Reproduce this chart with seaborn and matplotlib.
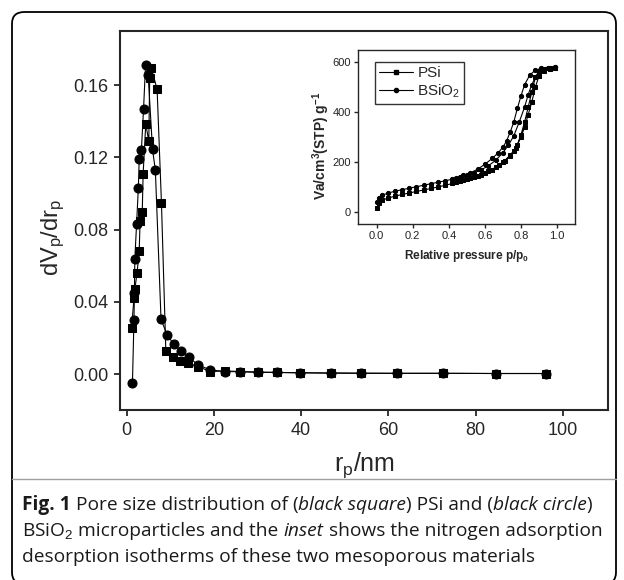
import numpy as np
import pandas as pd
import matplotlib
matplotlib.use('Agg')
import matplotlib.pyplot as plt
import seaborn as sns
from matplotlib.patches import FancyBboxPatch
from matplotlib.lines import Line2D

sns.set_style('ticks')
plt.rcParams['font.family'] = ['Liberation Sans', 'DejaVu Sans']
plt.rcParams['mathtext.fontset'] = 'custom'
plt.rcParams['mathtext.rm'] = 'Liberation Sans'
plt.rcParams['mathtext.it'] = 'Liberation Sans:italic'
plt.rcParams['mathtext.bf'] = 'Liberation Sans:bold'

# Pore size distribution (main plot)
psi_r = [1.15, 1.7, 1.9, 2.4, 2.9, 3.1, 3.6, 3.8, 4.4, 5.1, 5.3, 5.7, 7.0, 8.0, 9.0,
         10.7, 12.2, 14.1, 16.4, 19.2, 22.5, 26.1, 30.1, 34.4, 39.7, 46.8, 53.7,
         62.0, 72.5, 84.7, 96.0]
psi_dv = [0.0255, 0.042, 0.047, 0.056, 0.068, 0.085, 0.090, 0.111, 0.1385, 0.129,
          0.1638, 0.1693, 0.1577, 0.0946, 0.013, 0.0098, 0.0074, 0.006, 0.0042,
          0.0015, 0.0018, 0.0015, 0.0012, 0.001, 0.0008, 0.0007, 0.0006, 0.0005,
          0.0005, 0.0004, 0.0004]
bsio_r = [1.35, 1.7, 1.8, 1.9, 2.3, 2.7, 2.9, 3.4, 3.9, 4.35, 4.95, 5.95, 6.6, 7.9,
          9.3, 10.8, 12.4, 14.3, 16.4, 19.2, 22.5, 26.1, 30.1, 34.4, 39.7, 46.8,
          53.7, 62.0, 72.5, 84.7, 96.0]
bsio_dv = [-0.005, 0.030, 0.045, 0.064, 0.083, 0.103, 0.119, 0.124, 0.147, 0.171,
           0.1656, 0.1245, 0.113, 0.0304, 0.0217, 0.0168, 0.0129, 0.0094, 0.0051,
           0.0024, 0.0015, 0.0014, 0.001, 0.001, 0.0008, 0.0006, 0.0005, 0.0005,
           0.0005, 0.0004, 0.0004]

# Isotherms (inset): adsorption then desorption branch
psi_ads_p = [0.002, 0.01, 0.03, 0.06, 0.1, 0.14, 0.18, 0.22, 0.26, 0.3, 0.34, 0.38,
             0.42, 0.46, 0.5, 0.54, 0.58, 0.62, 0.66, 0.7, 0.74, 0.77, 0.8, 0.82,
             0.84, 0.86, 0.88, 0.9, 0.93, 0.96, 0.99]
psi_ads_v = [15, 35, 48, 56, 64, 71, 77, 83, 89, 95, 101, 108, 115, 123, 131, 140,
             150, 163, 180, 200, 228, 255, 300, 340, 390, 440, 500, 545, 565, 573, 576]
psi_des_p = [0.99, 0.96, 0.93, 0.9, 0.88, 0.86, 0.84, 0.82, 0.8, 0.78, 0.76, 0.74,
             0.71, 0.68, 0.64, 0.6, 0.56, 0.52, 0.48, 0.44]
psi_des_v = [576, 575, 572, 565, 540, 480, 420, 360, 310, 270, 245, 225, 205, 188,
             170, 156, 145, 136, 128, 120]
bsio_ads_p = [0.002, 0.01, 0.03, 0.06, 0.1, 0.14, 0.18, 0.22, 0.26, 0.3, 0.34, 0.38,
              0.42, 0.46, 0.5, 0.54, 0.58, 0.62, 0.66, 0.7, 0.73, 0.76, 0.79, 0.82,
              0.84, 0.86, 0.88, 0.9, 0.93, 0.96, 0.99]
bsio_ads_v = [40, 58, 68, 76, 84, 90, 96, 102, 108, 114, 120, 126, 132, 140, 148, 158,
              170, 186, 208, 238, 268, 305, 360, 420, 470, 510, 540, 560, 570, 576, 580]
bsio_des_p = [0.99, 0.95, 0.91, 0.88, 0.85, 0.82, 0.8, 0.78, 0.76, 0.74, 0.72, 0.7,
              0.67, 0.64, 0.6, 0.56, 0.52, 0.48, 0.44]
bsio_des_v = [580, 578, 575, 568, 550, 510, 465, 415, 360, 320, 285, 260, 235, 215,
              192, 172, 158, 147, 138]

fig = plt.figure(figsize=(6.24, 5.8), dpi=100)

# outer rounded frame and caption divider
frame = FancyBboxPatch((12 / 624, -4 / 580), 604 / 624, 572 / 580,
                       boxstyle='round,pad=0,rounding_size=0.02',
                       transform=fig.transFigure, fill=False, lw=1.3, ec='black')
fig.patches.append(frame)
fig.add_artist(Line2D([12 / 624, 616 / 624], [1 - 479 / 580] * 2, color='#a0a0a0', lw=1))

# main axes
ax = fig.add_axes([0.1923, 0.2931, 0.7821, 0.6535])
sns.lineplot(x=psi_r, y=psi_dv, ax=ax, sort=False, estimator=None, color='black',
             lw=0.8, marker='s', markersize=6, markeredgecolor='black')
sns.lineplot(x=bsio_r, y=bsio_dv, ax=ax, sort=False, estimator=None, color='black',
             lw=0.8, marker='o', markersize=6.5, markeredgecolor='black')
ax.set_xlim(-1.5, 110.3)
ax.set_ylim(-0.0198, 0.19)
ax.set_xticks([0, 20, 40, 60, 80, 100])
ax.set_yticks([0, 0.04, 0.08, 0.12, 0.16])
ax.set_yticklabels(['0.00', '0.04', '0.08', '0.12', '0.16'])
for s in ax.spines.values():
    s.set_linewidth(1.5)
ax.tick_params(direction='out', length=4.5, width=1.3, labelsize=13, pad=4)
ax.set_xlabel(r'r$_\mathrm{p}$/nm', fontsize=18, labelpad=8)
ax.set_ylabel(r'dV$_\mathrm{p}$/dr$_\mathrm{p}$', fontsize=17)
ax.yaxis.set_label_coords(-0.108, 0.456)

# inset
ins = fig.add_axes([0.5737, 0.6138, 0.3478, 0.30])
psi_df = pd.DataFrame({'p': psi_ads_p + psi_des_p, 'v': psi_ads_v + psi_des_v})
bsio_df = pd.DataFrame({'p': bsio_ads_p + bsio_des_p, 'v': bsio_ads_v + bsio_des_v})
sns.lineplot(data=psi_df, x='p', y='v', ax=ins, sort=False, estimator=None,
             color='black', lw=0.8, marker='s', markersize=3, markeredgecolor='black')
sns.lineplot(data=bsio_df, x='p', y='v', ax=ins, sort=False, estimator=None,
             color='black', lw=0.8, marker='o', markersize=3, markeredgecolor='black')
ins.set_xlim(-0.104, 1.1)
ins.set_ylim(-47, 649)
ins.set_xticks([0.0, 0.2, 0.4, 0.6, 0.8, 1.0])
ins.set_yticks([0, 200, 400, 600])
for s in ins.spines.values():
    s.set_linewidth(1)
ins.tick_params(direction='out', length=3, width=1, labelsize=8, pad=2,
                labelcolor='#222222')
ins.set_xlabel(r'Relative pressure p/p$_\mathbf{0}$', fontsize=8.5, fontweight='bold',
               labelpad=5)
ins.set_ylabel(r'Va/cm$^\mathbf{3}$(STP) g$^\mathbf{-1}$', fontsize=10,
               fontweight='bold')
ins.yaxis.set_label_coords(-0.12, 0.45)
handles = [Line2D([], [], color='black', lw=0.8, marker='s', markersize=3),
           Line2D([], [], color='black', lw=0.8, marker='o', markersize=3)]
leg = ins.legend(handles, ['PSi', r'BSiO$_\mathrm{2}$'], loc='upper left',
                 bbox_to_anchor=(0.08, 0.93), fontsize=11, frameon=True,
                 fancybox=False, edgecolor='black', handlelength=2.2,
                 handletextpad=0.3, borderpad=0.25, labelspacing=0.15,
                 borderaxespad=0)
leg.get_frame().set_linewidth(1)

# caption, placed piece by piece so styles can mix
fig.canvas.draw()
renderer = fig.canvas.get_renderer()
cap_font = ['Open Sans', 'DejaVu Sans']
cap_size = 13.8
probe1 = fig.text(0, 0, 'xx', fontsize=cap_size, family=cap_font)
probe2 = fig.text(0, 0, 'x x', fontsize=cap_size, family=cap_font)
space_w = (probe2.get_window_extent(renderer).width
           - probe1.get_window_extent(renderer).width) / fig.bbox.width
probe1.remove()
probe2.remove()

caption = [
    [('Fig. 1', 'normal', 'bold', True), ('Pore size distribution of (', 'normal', 'normal', False),
     ('black square', 'italic', 'normal', False), (') PSi and (', 'normal', 'normal', False),
     ('black circle', 'italic', 'normal', False), (')', 'normal', 'normal', False)],
    [(r'BSiO$_2$', 'normal', 'normal', True), ('microparticles and the', 'normal', 'normal', True),
     ('inset', 'italic', 'normal', True), ('shows the nitrogen adsorption', 'normal', 'normal', False)],
    [('desorption isotherms of these two mesoporous materials', 'normal', 'normal', False)],
]
line_y = [1 - 505 / 580, 1 - 531 / 580, 1 - 557 / 580]
for y, pieces in zip(line_y, caption):
    x = 22 / 624
    for txt, style, weight, gap in pieces:
        t = fig.text(x, y, txt, fontsize=cap_size, family=cap_font, style=style,
                     weight=weight, va='center', ha='left', color='#1a1a1a')
        x += t.get_window_extent(renderer).width / fig.bbox.width
        if gap:
            x += space_w

fig.savefig('out.png', dpi=100)
